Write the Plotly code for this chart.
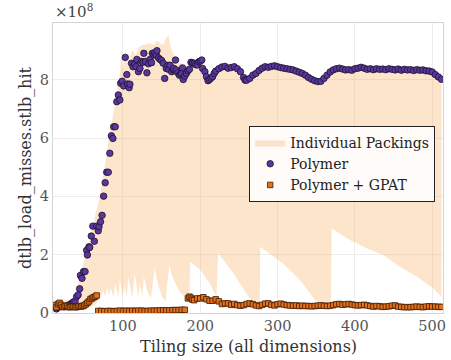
import plotly.graph_objects as go

# values in units of 1e8
polymer_x = [12,14,16,20,24,28,32,34,36,38,40,42,44,45,47,49,51,53,54,56,57,59,61,63,66,68,69,71,73,75,77,79,81,83,85,87,88,90,92,94,96,97,99,101,103,105,106,108,109,111,113,115,117,118,120,122,124,126,127,129,131,133,135,137,138,140,141,143,144,146,148,150,152,154,156,158,159,161,163,165,166,168,169,171,173,175,176,177,178,180,182,184,186,188,190,192,194,196,198,200,202,203,206,208,210,212,214,216,218,220,224,228,232,236,240,244,248,252,256,258,260,264,268,272,276,280,284,288,292,296,300,304,308,312,316,320,324,328,332,336,340,344,348,352,356,360,364,368,372,376,380,384,388,392,396,400,404,408,412,416,420,424,428,432,436,440,444,448,452,456,460,464,468,472,476,480,484,488,492,496,500,504,508,512]
polymer_y = [0.22,0.14,0.20,0.24,0.22,0.26,0.30,0.34,0.38,0.40,0.56,0.62,0.83,1.29,1.19,1.42,1.42,2.15,1.99,2.27,2.25,2.64,2.98,2.46,2.98,2.82,2.96,3.13,3.35,4.01,4.47,4.83,4.83,5.48,6.08,5.99,6.39,6.39,7.25,7.48,7.31,7.88,7.95,7.79,8.77,8.18,7.86,7.73,7.85,8.57,8.45,8.54,8.45,8.70,8.28,8.39,8.63,8.60,8.91,8.63,8.24,8.55,8.70,8.59,8.91,8.85,8.93,8.86,9.00,8.75,8.70,8.66,8.57,8.05,8.39,8.50,8.36,8.50,8.28,8.35,8.39,8.68,8.34,8.24,8.16,8.20,8.22,8.41,8.01,8.13,8.22,8.31,8.36,8.60,8.58,8.57,8.52,8.51,8.62,8.64,8.68,8.39,8.28,8.11,7.97,8.01,8.06,8.11,8.22,8.30,8.38,8.44,8.46,8.40,8.42,8.45,8.38,8.28,8.08,7.99,7.99,8.05,8.16,8.22,8.32,8.40,8.45,8.43,8.46,8.48,8.45,8.42,8.40,8.38,8.36,8.34,8.30,8.26,8.22,8.16,8.08,8.02,7.97,7.94,7.95,8.05,8.16,8.27,8.34,8.38,8.40,8.37,8.34,8.35,8.33,8.38,8.40,8.43,8.40,8.36,8.38,8.35,8.38,8.36,8.37,8.35,8.38,8.36,8.34,8.37,8.33,8.36,8.34,8.35,8.32,8.35,8.33,8.34,8.31,8.30,8.27,8.18,8.10,8.02]

gpat_x = [12,14,16,18,20,22,24,26,28,30,32,34,36,38,40,42,44,46,48,50,52,54,56,58,60,62,64,66,68,72,76,80,84,88,92,96,100,104,108,112,116,120,124,128,132,136,140,144,148,152,156,160,164,168,172,176,180,184,186,188,190,192,196,200,204,208,212,216,220,224,228,232,236,240,244,248,252,256,260,264,268,272,276,280,284,288,292,296,300,304,308,312,316,320,324,328,332,336,340,344,348,352,356,360,364,368,372,376,380,384,388,392,396,400,404,408,412,416,420,424,428,432,436,440,444,448,452,456,460,464,468,472,476,480,484,488,492,496,500,504,508,512]
gpat_y = [0.27,0.20,0.30,0.35,0.28,0.20,0.22,0.24,0.24,0.20,0.20,0.22,0.22,0.20,0.20,0.22,0.24,0.22,0.24,0.26,0.30,0.35,0.40,0.48,0.50,0.54,0.56,0.60,0.07,0.07,0.06,0.07,0.07,0.06,0.07,0.08,0.07,0.08,0.07,0.08,0.07,0.08,0.08,0.07,0.07,0.08,0.08,0.08,0.09,0.09,0.09,0.09,0.10,0.10,0.10,0.11,0.11,0.50,0.56,0.52,0.46,0.44,0.50,0.50,0.54,0.47,0.42,0.42,0.47,0.40,0.31,0.33,0.33,0.28,0.31,0.27,0.25,0.27,0.31,0.33,0.30,0.26,0.24,0.28,0.32,0.33,0.28,0.26,0.30,0.32,0.29,0.27,0.26,0.25,0.26,0.24,0.25,0.24,0.24,0.23,0.24,0.25,0.26,0.25,0.24,0.25,0.27,0.30,0.31,0.28,0.30,0.31,0.29,0.27,0.26,0.27,0.28,0.26,0.24,0.22,0.24,0.23,0.21,0.22,0.23,0.25,0.26,0.22,0.21,0.20,0.20,0.20,0.21,0.22,0.21,0.20,0.22,0.23,0.22,0.22,0.21,0.21]

pack_upper_x = [10,20,30,36,38,42,45,49,55,60,65,70,74,77,80,83,86,88,92,96,98,100,103,106,108,112,116,120,124,128,132,136,140,144,148,152,156,159,162,166,170,176,180,186,190,196,200,206,210,214,220,228,236,244,250,256,260,266,272,280,290,300,310,320,330,340,350,356,364,372,380,390,400,410,420,440,460,480,496,500,506,512]
pack_upper_y = [0.45,0.42,0.45,0.50,0.60,1.02,1.35,1.70,2.27,2.90,3.45,4.00,4.60,5.13,5.70,6.28,6.60,6.90,7.50,8.20,8.95,8.40,8.96,8.60,8.65,9.02,8.85,9.10,9.19,9.20,9.25,9.25,9.20,9.35,9.25,9.20,9.45,9.50,9.10,8.85,8.60,8.55,8.45,8.55,8.70,8.65,8.72,8.50,8.20,8.15,8.45,8.55,8.55,8.55,8.45,8.20,8.12,8.20,8.32,8.50,8.55,8.55,8.50,8.45,8.35,8.20,8.05,8.05,8.25,8.45,8.50,8.45,8.48,8.52,8.47,8.47,8.45,8.45,8.42,8.38,8.25,8.10]

pack_lower_x = [10,30,50,62,66,68,72,74,77,79,82,84,88,90,94,96,100,102,105,107,112,115,120,122,125,127,131,136,141,145,150,155,160,163,168,174,180,186,187,200,212,221,223,243,264,273,277,277.5,307,329,342,350,360,369,370,394,415,437,458,480,501,512]
pack_lower_y = [0.10,0.12,0.15,0.25,0.35,0.70,0.55,0.80,0.55,0.90,0.60,0.85,0.55,1.00,0.55,1.13,0.55,0.95,0.55,1.25,0.50,1.36,0.55,1.00,0.55,1.25,0.80,0.50,1.53,1.00,0.60,0.39,1.65,1.30,1.00,0.70,0.55,0.55,1.76,1.48,1.02,0.56,2.05,1.36,0.50,0.35,0.35,2.27,1.70,1.13,0.68,0.39,0.30,0.30,2.90,2.50,2.22,1.99,1.59,1.25,0.85,0.56]

y_ticks = [0, 2, 4, 6, 8]
x_ticks = [100, 200, 300, 400, 500]

FONT = "DejaVu Serif"

fig = go.Figure()

band_x = pack_upper_x + pack_lower_x[::-1]
band_y = pack_upper_y + pack_lower_y[::-1]
fig.add_trace(go.Scatter(
    x=band_x, y=band_y, mode="lines", fill="toself",
    fillcolor="rgba(250,180,110,0.35)", line=dict(width=0),
    name="Individual Packings", hoverinfo="skip"))

fig.add_trace(go.Scatter(
    x=polymer_x, y=polymer_y, mode="markers", name="Polymer",
    marker=dict(symbol="circle", size=6.5, color="#58389a",
                line=dict(color="#1e1030", width=0.8))))

fig.add_trace(go.Scatter(
    x=gpat_x, y=gpat_y, mode="markers", name="Polymer + GPAT",
    marker=dict(symbol="square", size=5.5, color="#e8701a",
                line=dict(color="#3a1a05", width=0.8))))

axis_common = dict(
    showline=True, linecolor="#d4d4d4", linewidth=1, mirror=True,
    showgrid=True, gridcolor="#ececec", gridwidth=1, zeroline=False,
    ticks="", tickfont=dict(family=FONT, size=14.5, color="#555555"))

fig.update_xaxes(range=[9.5, 514], tickvals=x_ticks, **axis_common)
fig.update_yaxes(range=[0, 9.95], tickvals=y_ticks, **axis_common)

fig.update_layout(
    width=451, height=360,
    margin=dict(l=53, r=8, t=23, b=47, autoexpand=False),
    paper_bgcolor="white", plot_bgcolor="white",
    font=dict(family=FONT, size=14, color="#333333"),
    showlegend=True,
    legend=dict(x=0.98, y=0.645, xanchor="right", yanchor="top",
                bgcolor="rgba(255,255,255,0.85)", bordercolor="#222222",
                borderwidth=1, font=dict(family=FONT, size=14, color="#222222"),
                tracegroupgap=0),
    annotations=[
        dict(text="×10<sup>8</sup>", xref="paper", yref="paper", x=0, y=1,
             xanchor="left", yanchor="bottom", showarrow=False,
             font=dict(family=FONT, size=15, color="#444444")),
        dict(text="Tiling size (all dimensions)", xref="paper", yref="paper",
             x=0.5, y=-0.115, xanchor="center", yanchor="middle", showarrow=False,
             font=dict(family=FONT, size=16, color="#333333")),
        dict(text="dtlb_load_misses.stlb_hit", xref="paper", yref="paper",
             x=-0.072, y=0.5, xanchor="center", yanchor="middle", textangle=-90,
             showarrow=False, font=dict(family=FONT, size=16, color="#333333")),
    ],
)

fig.write_html("out.html")
